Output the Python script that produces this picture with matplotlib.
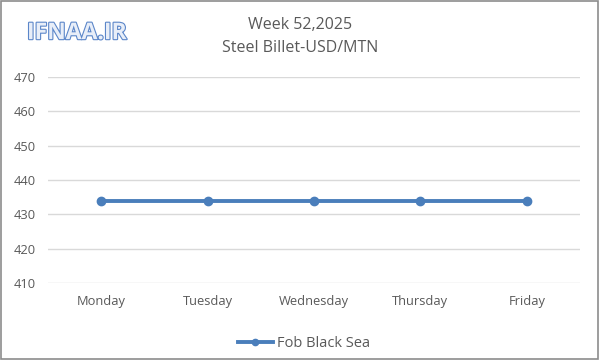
import matplotlib.pyplot as plt
import matplotlib.patheffects as pe
from matplotlib.patches import Rectangle

# Chart data
days = ["Monday", "Tuesday", "Wednesday", "Thursday", "Friday"]
fob_black_sea = [434, 434, 434, 434, 434]
y_ticks = [410, 420, 430, 440, 450, 460, 470]

plt.rcParams['font.family'] = ['Open Sans', 'DejaVu Sans']

fig = plt.figure(figsize=(6, 3.6), dpi=100)
ax = fig.add_axes([0.08, 0.2139, 0.8867, 0.5722])

x = range(len(days))
ax.plot(x, fob_black_sea, color="#4a7ebb", linewidth=2.8, marker="o",
        markersize=6, label="Fob Black Sea")

ax.set_xlim(-0.5, len(days) - 0.5)
ax.set_ylim(410, 470)
ax.set_yticks(y_ticks)
ax.set_xticks(list(x))
ax.set_xticklabels(days)
ax.grid(axis="y", color="#d9d9d9", linewidth=1)
ax.set_axisbelow(True)
for s in ax.spines.values():
    s.set_visible(False)
ax.tick_params(length=0, labelsize=9.3, labelcolor="#595959")
ax.tick_params(axis="x", pad=9)
ax.tick_params(axis="y", pad=9)

# Title
fig.text(0.5, 0.93, "Week 52,2025", ha="center", va="center",
         fontsize=11.5, color="#595959")
fig.text(0.5, 0.866, "Steel Billet-USD/MTN", ha="center", va="center",
         fontsize=11.5, color="#595959")

# Logo text
fig.text(0.045, 0.908, "IFNAA.IR", ha="left", va="center", fontsize=16.5,
         fontweight="bold", color="#e8eef8",
         path_effects=[pe.withStroke(linewidth=1.6, foreground="#5b86c9")])

# Legend
ax.legend(loc="center", bbox_to_anchor=(0.481, -0.295), frameon=False,
          fontsize=10.5, labelcolor="#595959", handlelength=2.4,
          handletextpad=0.3, markerscale=0.75)

# Outer border
fig.patches.append(Rectangle((0.002, 0.003), 0.995, 0.994, transform=fig.transFigure,
                             fill=False, edgecolor="#8c8c8c", linewidth=1.2))

fig.savefig("out.png", dpi=100)
